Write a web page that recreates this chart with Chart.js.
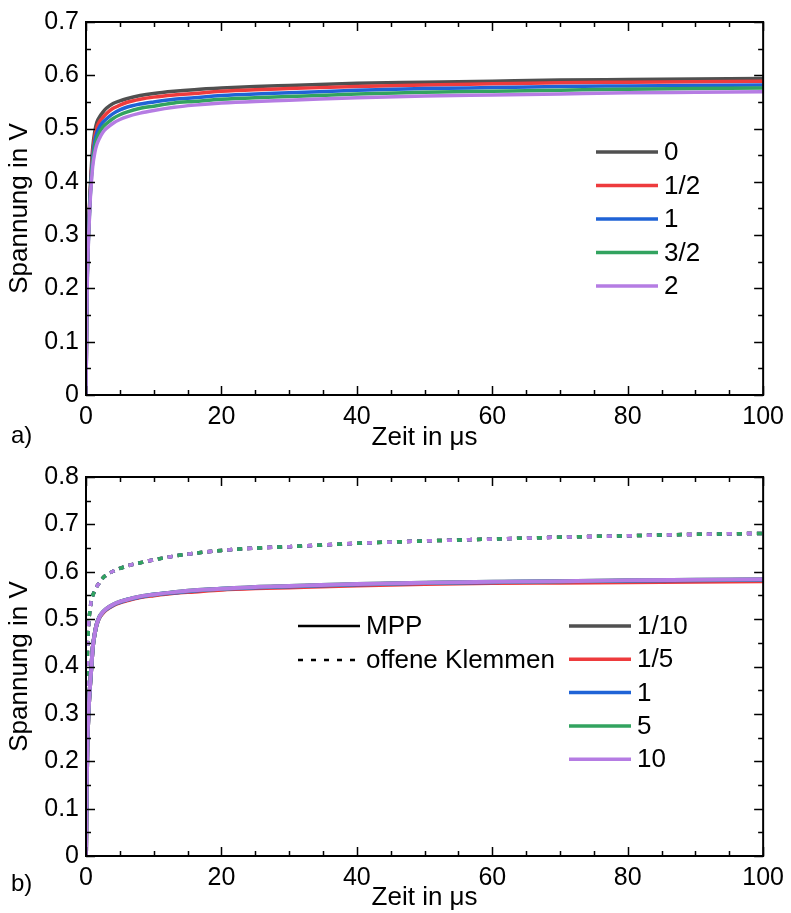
<!DOCTYPE html>
<html>
<head>
<meta charset="utf-8">
<script src="https://cdn.jsdelivr.net/npm/chart.js@4.4.0/dist/chart.umd.min.js"></script>
<style>
  body { margin: 0; background: #fff; }
  #wrap { position: relative; width: 791px; height: 913px; }
  canvas { position: absolute; left: 0; }
</style>
</head>
<body>
<div id="wrap">
  <canvas id="chartA" width="791" height="455" style="top:0px"></canvas>
  <canvas id="chartB" width="791" height="458" style="top:455px"></canvas>
</div>
<script>
// Zeitachse in µs (gemeinsam für alle Kurven)
const zeit = [0, 0.1, 0.2, 0.4, 0.6, 0.8, 1, 1.3, 1.6, 2, 2.5, 3, 4, 5, 6, 8, 10, 13, 16, 20, 25, 30, 40, 50, 60, 70, 80, 90, 100];

// Teil a) - Spannung in V
const labelsA = ['0', '1/2', '1', '3/2', '2'];
const a_0   = [0, 0.150, 0.240, 0.320, 0.380, 0.430, 0.465, 0.495, 0.512, 0.522, 0.531, 0.538, 0.547, 0.552, 0.556, 0.562, 0.566, 0.570, 0.573, 0.576, 0.579, 0.581, 0.585, 0.587, 0.589, 0.591, 0.592, 0.593, 0.594];
const a_05  = [0, 0.145, 0.235, 0.315, 0.375, 0.420, 0.455, 0.485, 0.502, 0.513, 0.521, 0.528, 0.538, 0.544, 0.549, 0.555, 0.559, 0.563, 0.566, 0.570, 0.573, 0.575, 0.579, 0.582, 0.584, 0.586, 0.587, 0.588, 0.589];
const a_1   = [0, 0.140, 0.230, 0.310, 0.370, 0.415, 0.447, 0.476, 0.492, 0.503, 0.512, 0.518, 0.528, 0.535, 0.540, 0.546, 0.550, 0.555, 0.558, 0.562, 0.565, 0.567, 0.572, 0.575, 0.577, 0.579, 0.580, 0.581, 0.582];
const a_15  = [0, 0.135, 0.225, 0.305, 0.365, 0.408, 0.440, 0.466, 0.482, 0.493, 0.503, 0.509, 0.519, 0.526, 0.531, 0.538, 0.542, 0.548, 0.551, 0.555, 0.558, 0.560, 0.565, 0.568, 0.570, 0.572, 0.574, 0.575, 0.576];
const a_2   = [0, 0.130, 0.220, 0.300, 0.360, 0.400, 0.430, 0.455, 0.470, 0.482, 0.493, 0.500, 0.510, 0.517, 0.522, 0.529, 0.534, 0.540, 0.544, 0.548, 0.551, 0.553, 0.558, 0.561, 0.563, 0.565, 0.567, 0.568, 0.569];

// Teil b) - MPP (durchgezogen) und offene Klemmen (gestrichelt)
const labelsB = ['1/10', '1/5', '1', '5', '10'];
const artLabels = ['MPP', 'offene Klemmen'];
const mpp_01 = [0, 0.140, 0.230, 0.310, 0.360, 0.400, 0.440, 0.470, 0.490, 0.504, 0.514, 0.521, 0.530, 0.536, 0.540, 0.547, 0.551, 0.556, 0.560, 0.563, 0.567, 0.569, 0.573, 0.576, 0.578, 0.579, 0.581, 0.582, 0.583];
const mpp_02 = [0, 0.140, 0.230, 0.310, 0.360, 0.400, 0.440, 0.470, 0.490, 0.504, 0.513, 0.520, 0.529, 0.535, 0.539, 0.546, 0.550, 0.555, 0.558, 0.562, 0.565, 0.567, 0.571, 0.574, 0.576, 0.577, 0.578, 0.579, 0.580];
const mpp_1  = [0, 0.140, 0.230, 0.310, 0.360, 0.400, 0.440, 0.470, 0.490, 0.505, 0.515, 0.521, 0.530, 0.536, 0.541, 0.547, 0.552, 0.556, 0.560, 0.564, 0.567, 0.569, 0.573, 0.576, 0.578, 0.580, 0.581, 0.582, 0.583];
const mpp_5  = [0, 0.140, 0.230, 0.310, 0.360, 0.400, 0.440, 0.470, 0.490, 0.505, 0.515, 0.522, 0.531, 0.537, 0.541, 0.548, 0.552, 0.557, 0.561, 0.564, 0.568, 0.570, 0.574, 0.577, 0.579, 0.580, 0.582, 0.583, 0.584];
const mpp_10 = [0, 0.140, 0.230, 0.310, 0.360, 0.400, 0.440, 0.470, 0.490, 0.505, 0.515, 0.522, 0.531, 0.537, 0.541, 0.548, 0.552, 0.557, 0.561, 0.564, 0.568, 0.570, 0.574, 0.577, 0.579, 0.580, 0.582, 0.583, 0.584];
const ok_01  = [0, 0.300, 0.420, 0.490, 0.520, 0.540, 0.550, 0.560, 0.569, 0.577, 0.587, 0.593, 0.601, 0.607, 0.612, 0.619, 0.625, 0.633, 0.639, 0.645, 0.650, 0.653, 0.660, 0.665, 0.669, 0.673, 0.676, 0.679, 0.681];
const ok_02  = [0, 0.300, 0.420, 0.490, 0.520, 0.540, 0.550, 0.560, 0.569, 0.577, 0.587, 0.593, 0.601, 0.607, 0.612, 0.619, 0.625, 0.633, 0.639, 0.645, 0.650, 0.653, 0.660, 0.665, 0.669, 0.673, 0.676, 0.679, 0.681];
const ok_1   = [0, 0.300, 0.420, 0.490, 0.520, 0.540, 0.550, 0.560, 0.569, 0.577, 0.587, 0.593, 0.601, 0.607, 0.612, 0.619, 0.625, 0.633, 0.639, 0.645, 0.650, 0.653, 0.660, 0.665, 0.669, 0.673, 0.676, 0.679, 0.681];
const ok_5   = [0, 0.300, 0.420, 0.490, 0.520, 0.540, 0.550, 0.560, 0.569, 0.577, 0.587, 0.593, 0.601, 0.607, 0.612, 0.619, 0.625, 0.633, 0.639, 0.645, 0.650, 0.653, 0.660, 0.665, 0.669, 0.673, 0.676, 0.679, 0.681];
const ok_10  = [0, 0.300, 0.420, 0.490, 0.520, 0.540, 0.550, 0.560, 0.569, 0.577, 0.587, 0.593, 0.601, 0.607, 0.612, 0.619, 0.625, 0.633, 0.639, 0.645, 0.650, 0.653, 0.660, 0.665, 0.669, 0.673, 0.676, 0.679, 0.681];

const farben = ['#505050', '#ee3b3d', '#1f63d6', '#32a35f', '#b57ce3'];
const schrift = '"Liberation Sans", Arial, sans-serif';

function punkte(werte) {
  return werte.map((v, i) => ({ x: zeit[i], y: v }));
}

// Rahmen mit nach innen zeigenden Ticks, Teil-Beschriftung und Legende
const rahmenPlugin = {
  id: 'rahmen',
  afterDatasetsDraw(chart, args, opts) {
    const { ctx, chartArea: a } = chart;
    const x = chart.scales.x, y = chart.scales.y;
    ctx.save();
    ctx.strokeStyle = '#000';
    ctx.lineWidth = 1.5;
    ctx.beginPath();
    const istGross = (v, step) => Math.abs(v / step - Math.round(v / step)) < 1e-6;
    for (let v = x.min; v <= x.max + 1e-9; v += opts.xMinor) {
      const px = Math.round(x.getPixelForValue(v)) + 0.5;
      const len = istGross(v, opts.xMajor) ? 9 : 5;
      ctx.moveTo(px, a.bottom); ctx.lineTo(px, a.bottom - len);
      ctx.moveTo(px, a.top); ctx.lineTo(px, a.top + len);
    }
    for (let i = 0; i * opts.yMinor <= y.max + 1e-9; i++) {
      const v = i * opts.yMinor;
      const py = Math.round(y.getPixelForValue(v)) + 0.5;
      const len = i % 2 === 0 ? 9 : 5;
      ctx.moveTo(a.left, py); ctx.lineTo(a.left + len, py);
      ctx.moveTo(a.right, py); ctx.lineTo(a.right - len, py);
    }
    ctx.stroke();
    ctx.lineWidth = 2;
    ctx.strokeRect(a.left, a.top, a.right - a.left, a.bottom - a.top);

    // Teil-Beschriftung a) / b)
    ctx.fillStyle = '#000';
    ctx.font = '24px ' + schrift;
    ctx.textBaseline = 'middle';
    ctx.textAlign = 'left';
    ctx.fillText(opts.teil, 11, a.bottom + opts.teilDy);

    // Legende
    ctx.font = '26px ' + schrift;
    opts.spalten.forEach(sp => {
      sp.eintraege.forEach((e, i) => {
        const yy = a.top + sp.y + i * sp.zeile;
        ctx.strokeStyle = e.farbe;
        ctx.setLineDash(e.dash || []);
        ctx.lineWidth = e.breite || 3.5;
        ctx.beginPath();
        ctx.moveTo(a.left + sp.x, yy);
        ctx.lineTo(a.left + sp.x + 62, yy);
        ctx.stroke();
        ctx.setLineDash([]);
        ctx.fillText(e.label, a.left + sp.x + 68, yy + 1);
      });
    });
    ctx.restore();
  }
};

function achsen(yMax, xHoehe, xPadBottom) {
  return {
    x: {
      type: 'linear', min: 0, max: 100,
      grid: { display: false, drawTicks: false },
      border: { display: false },
      ticks: { stepSize: 20, padding: 7, color: '#000', font: { family: schrift, size: 25 } },
      title: { display: true, text: 'Zeit in μs', color: '#000', font: { family: schrift, size: 26 }, padding: { top: 0, bottom: xPadBottom } },
      afterFit: s => { s.height = xHoehe; }
    },
    y: {
      type: 'linear', min: 0, max: yMax,
      grid: { display: false, drawTicks: false },
      border: { display: false },
      ticks: { stepSize: 0.1, padding: 7, color: '#000', font: { family: schrift, size: 25 },
        callback: v => (Math.abs(v) < 1e-9 ? '0' : v.toFixed(1)) },
      title: { display: true, text: 'Spannung in V', color: '#000', font: { family: schrift, size: 26 }, padding: { top: 4, bottom: 0 } },
      afterFit: s => { s.width = 86; }
    }
  };
}

// Teil a) - Index 0 (grau) wird zuunterst gezeichnet, lila zuoberst
const reihenA = [a_0, a_05, a_1, a_15, a_2];
new Chart(document.getElementById('chartA').getContext('2d'), {
  type: 'line',
  data: {
    datasets: reihenA.map((w, i) => ({
      label: labelsA[i],
      data: punkte(w),
      borderColor: farben[i],
      borderWidth: 3.5,
      pointRadius: 0,
      cubicInterpolationMode: 'monotone',
      fill: false,
      order: 4 - i
    }))
  },
  options: {
    responsive: false,
    animation: false,
    layout: { padding: { left: 0, right: 25, top: 17, bottom: 0 } },
    plugins: {
      legend: { display: false },
      tooltip: { enabled: false },
      rahmen: {
        xMinor: 5, xMajor: 20, yMinor: 0.05, teil: 'a)', teilDy: 41,
        spalten: [{ x: 510, y: 130, zeile: 33.5,
          eintraege: labelsA.map((l, i) => ({ label: l, farbe: farben[i] })) }]
      }
    },
    scales: achsen(0.7, 60, 2)
  },
  plugins: [rahmenPlugin]
});

// Teil b)
const reihenMpp = [mpp_01, mpp_02, mpp_1, mpp_5, mpp_10];
const reihenOk = [ok_01, ok_02, ok_1, ok_5, ok_10];
const dsB = [];
reihenOk.forEach((w, i) => {
  dsB.push({
    label: labelsB[i] + ' ' + artLabels[1],
    data: punkte(w),
    borderColor: farben[i],
    borderWidth: 3.5,
    borderDash: i === 4 ? [5, 15] : [5, 5],
    borderDashOffset: i === 4 ? 10 : 0,
    pointRadius: 0,
    cubicInterpolationMode: 'monotone',
    fill: false,
    order: 14 - i
  });
});
reihenMpp.forEach((w, i) => {
  dsB.push({
    label: labelsB[i] + ' ' + artLabels[0],
    data: punkte(w),
    borderColor: farben[i],
    borderWidth: 4,
    pointRadius: 0,
    cubicInterpolationMode: 'monotone',
    fill: false,
    order: 4 - i
  });
});
new Chart(document.getElementById('chartB').getContext('2d'), {
  type: 'line',
  data: { datasets: dsB },
  options: {
    responsive: false,
    animation: false,
    layout: { padding: { left: 0, right: 25, top: 22, bottom: 0 } },
    plugins: {
      legend: { display: false },
      tooltip: { enabled: false },
      rahmen: {
        xMinor: 5, xMajor: 20, yMinor: 0.05, teil: 'b)', teilDy: 28,
        spalten: [
          { x: 212, y: 149, zeile: 34, eintraege: [
            { label: artLabels[0], farbe: '#000', breite: 2.5 },
            { label: artLabels[1], farbe: '#000', breite: 2.5, dash: [5, 8] }
          ] },
          { x: 483, y: 149, zeile: 33.3,
            eintraege: labelsB.map((l, i) => ({ label: l, farbe: farben[i] })) }
        ]
      }
    },
    scales: achsen(0.8, 57, 0)
  },
  plugins: [rahmenPlugin]
});
</script>
</body>
</html>
